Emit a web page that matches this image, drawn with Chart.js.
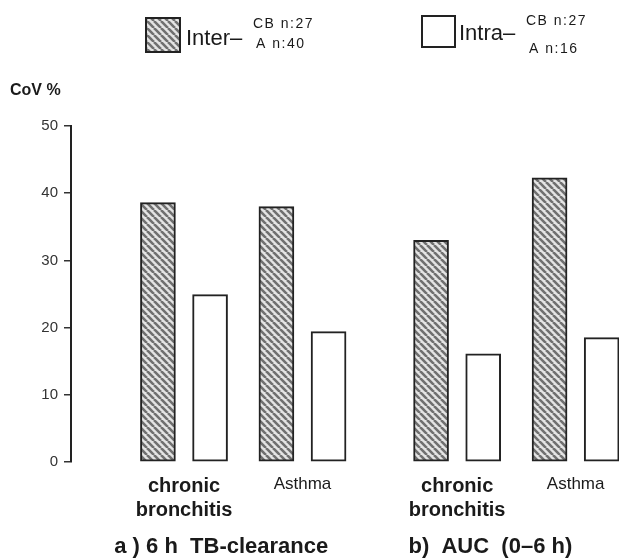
<!DOCTYPE html>
<html>
<head>
<meta charset="utf-8">
<script src="https://cdn.jsdelivr.net/npm/chart.js@4.4.1/dist/chart.umd.min.js"></script>
<style>
  html, body { margin: 0; padding: 0; background: #ffffff; }
  #wrap { width: 619px; height: 558px; position: relative; }
</style>
</head>
<body>
<div id="wrap"><canvas id="c" width="619" height="558"></canvas></div>
<script>
// ---- data ----
const categories = [['chronic', 'bronchitis'], 'Asthma'];
const panelTitles = ['a ) 6 h  TB-clearance', 'b)  AUC  (0–6 h)'];
// order: panel a CB, panel a Asthma, panel b CB, panel b Asthma
const interValues = [38.6, 38.0, 33.0, 42.3];
const intraValues = [24.9, 19.4, 16.1, 18.5];
const yTicks = [0, 10, 20, 30, 40, 50];
const yTitle = 'CoV %';
const interLegend = ['Inter–', 'CB n:27', 'A n:40'];
const intraLegend = ['Intra–', 'CB n:27', 'A n:16'];

// ---- layout helpers (group slots on a linear x scale) ----
const panelGap = 2.305;       // slot of first group of panel b
const half = 0.22;            // half distance between the two bars of a group
const slots = [0, 1, panelGap, panelGap + 1];

const FONT = "'Liberation Sans', Arial, Helvetica, sans-serif";

const canvas = document.getElementById('c');
const ctx = canvas.getContext('2d');

function makeHatch() {
  const s = 7;
  const t = document.createElement('canvas');
  t.width = s; t.height = s;
  const g = t.getContext('2d');
  g.fillStyle = '#e4e4e4';
  g.fillRect(0, 0, s, s);
  g.strokeStyle = '#707070';
  g.lineWidth = 2.6;
  g.beginPath();
  for (const k of [-s, 0, s]) { g.moveTo(k, 0); g.lineTo(k + s, s); }
  g.stroke();
  return ctx.createPattern(t, 'repeat');
}
const hatch = makeHatch();

const interData = interValues.map((v, i) => ({ x: slots[i] - half, y: v }));
const intraData = intraValues.map((v, i) => ({ x: slots[i] + half, y: v }));

const extras = {
  id: 'extras',
  afterDraw(chart) {
    const c = chart.ctx;
    c.save();
    c.fillStyle = '#1a1a1a';
    c.textBaseline = 'alphabetic';
    // y title
    c.font = 'bold 16px ' + FONT;
    c.textAlign = 'left';
    c.fillText(yTitle, 10, 95);

    // legend
    function legendItem(bx, by, bw, bh, fill, texts, tx, base1, sx, sb1, sb2) {
      c.fillStyle = fill;
      c.fillRect(bx, by, bw, bh);
      c.strokeStyle = '#222';
      c.lineWidth = 2;
      c.strokeRect(bx, by, bw, bh);
      c.fillStyle = '#1a1a1a';
      c.font = '22px ' + FONT;
      c.fillText(texts[0], tx, base1);
      c.font = '14px ' + FONT;
      try { c.letterSpacing = '1.5px'; } catch (e) {}
      c.fillText(texts[1], sx, sb1);
      c.fillText(texts[2], sx + 3, sb2);
      try { c.letterSpacing = '0px'; } catch (e) {}
    }
    const ds = chart.data.datasets;
    legendItem(146, 18, 34, 34, ds[0].backgroundColor, interLegend, 186, 45, 253, 28, 48);
    legendItem(422, 16, 33, 31, ds[1].backgroundColor, intraLegend, 459, 40, 526, 25, 53);

    // panel titles
    const xs = chart.scales.x;
    c.fillStyle = '#1a1a1a';
    c.font = 'bold 22px ' + FONT;
    c.textAlign = 'center';
    c.fillText(panelTitles[0], (xs.getPixelForValue(slots[0]) + xs.getPixelForValue(slots[1])) / 2 - 22, 553);
    c.fillText(panelTitles[1], (xs.getPixelForValue(slots[2]) + xs.getPixelForValue(slots[3])) / 2 - 26, 553);
    c.restore();
  }
};

new Chart(canvas, {
  type: 'bar',
  data: {
    datasets: [
      {
        label: interLegend.join(' '),
        data: interData,
        backgroundColor: hatch,
        borderColor: '#222',
        borderWidth: 2,
        borderSkipped: false,
        barThickness: 35
      },
      {
        label: intraLegend.join(' '),
        data: intraData,
        backgroundColor: '#ffffff',
        borderColor: '#222',
        borderWidth: 2,
        borderSkipped: false,
        barThickness: 35
      }
    ]
  },
  options: {
    responsive: false,
    animation: false,
    events: [],
    layout: { padding: { top: 126, left: 0, right: 0, bottom: 0 } },
    datasets: { bar: { grouped: false } },
    plugins: { legend: { display: false }, title: { display: false }, tooltip: { enabled: false } },
    scales: {
      x: {
        type: 'linear',
        offset: false,
        bounds: 'data',
        min: -0.9536,
        max: 3.671,
        grid: { display: false, drawTicks: false, offset: false },
        border: { display: false },
        afterBuildTicks: (s) => { s.ticks = slots.map(v => ({ value: v })); },
        afterFit: (s) => { s.height = 96; },
        ticks: {
          autoSkip: false,
          maxRotation: 0,
          padding: 12,
          color: '#1a1a1a',
          callback: (v, i) => categories[i % 2],
          font: (ctx) => (ctx.index % 2 === 0)
            ? { family: FONT, size: 20, weight: 'bold', lineHeight: 1.2 }
            : { family: FONT, size: 17, weight: 'normal', lineHeight: 1.2 }
        }
      },
      y: {
        min: 0,
        max: 50,
        afterBuildTicks: (s) => { s.ticks = yTicks.map(v => ({ value: v })); },
        afterFit: (s) => { s.width = 71; },
        grid: { drawOnChartArea: false, drawTicks: true, tickLength: 7, color: '#333', lineWidth: 1.5 },
        border: { display: true, color: '#222', width: 2 },
        ticks: {
          padding: 6,
          color: '#333',
          font: { family: FONT, size: 15 }
        }
      }
    }
  },
  plugins: [extras]
});
</script>
</body>
</html>
